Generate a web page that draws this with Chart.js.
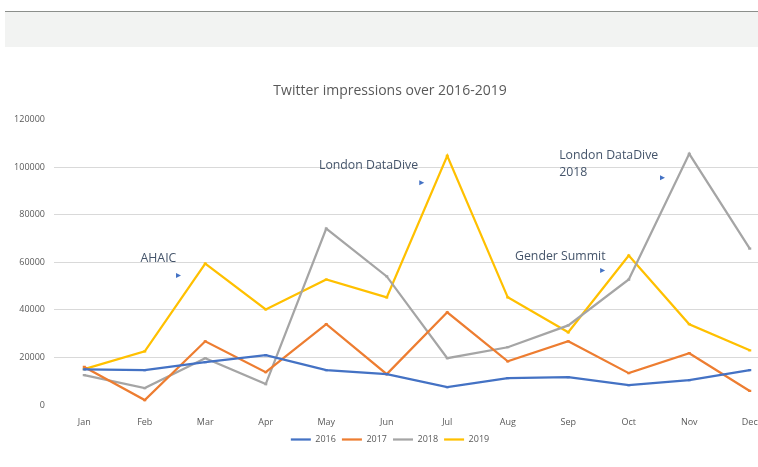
<!DOCTYPE html>
<html>
<head>
<meta charset="utf-8">
<script src="https://cdn.jsdelivr.net/npm/chart.js@4.4.0/dist/chart.umd.min.js"></script>
<style>
  html, body { margin: 0; padding: 0; background: #fff; overflow: hidden; }
  body { width: 758px; height: 467px; position: relative; }
  .topbar { position: absolute; left: 5px; top: 11px; width: 760px; height: 35px; background: #f2f3f2; border-top: 1px solid #8c8f8c; }
  .wrap { position: absolute; left: 0; top: 0; width: 798px; height: 467px; }
</style>
</head>
<body>
<div class="topbar"></div>
<div class="wrap"><canvas id="chart"></canvas></div>
<script>
// Data
const months = ['Jan', 'Feb', 'Mar', 'Apr', 'May', 'Jun', 'Jul', 'Aug', 'Sep', 'Oct', 'Nov', 'Dec'];
const y2016 = [15000, 14700, 18000, 21000, 14700, 13000, 7500, 11300, 11700, 8400, 10500, 14700];
const y2017 = [16000, 2100, 26800, 13800, 34000, 13000, 39000, 18400, 26800, 13400, 21800, 5900];
const y2018 = [12600, 7100, 19700, 8800, 74200, 54100, 19700, 24300, 33500, 52800, 105700, 65800];
const y2019 = [15100, 22600, 59500, 40200, 52800, 45300, 104800, 45300, 30600, 62900, 34000, 23000];
const yTicks = [0, 20000, 40000, 60000, 80000, 100000, 120000];

// Callout labels, anchored in data units (month index, value)
const notes = [
  { lines: ['AHAIC'], x: 0.93, y: 61600, ax: 1.55, ay: 54500 },
  { lines: ['London DataDive'], x: 3.88, y: 100600, ax: 5.57, ay: 93500 },
  { lines: ['London DataDive', '2018'], x: 7.85, y: 104800, ax: 9.55, ay: 95600 },
  { lines: ['Gender Summit'], x: 7.12, y: 62500, ax: 8.56, ay: 56600 }
];

const notesPlugin = {
  id: 'notes',
  afterDatasetsDraw(chart) {
    const { ctx, scales: { x, y } } = chart;
    ctx.save();
    ctx.font = '12.3px "Open Sans", sans-serif';
    ctx.textBaseline = 'middle';
    notes.forEach(n => {
      const px = x.getPixelForValue(n.x);
      const py = y.getPixelForValue(n.y);
      ctx.fillStyle = '#44546a';
      n.lines.forEach((t, i) => ctx.fillText(t, px, py + i * 17));
      const ax = x.getPixelForValue(n.ax);
      const ay = y.getPixelForValue(n.ay);
      ctx.fillStyle = '#4472c4';
      ctx.beginPath();
      ctx.moveTo(ax - 2, ay - 2.5);
      ctx.lineTo(ax + 3, ay);
      ctx.lineTo(ax - 2, ay + 2.5);
      ctx.closePath();
      ctx.fill();
    });
    ctx.restore();
  }
};

const series = [
  { label: '2016', data: y2016, color: '#4472c4' },
  { label: '2017', data: y2017, color: '#ed7d31' },
  { label: '2018', data: y2018, color: '#a5a5a5' },
  { label: '2019', data: y2019, color: '#ffc000' }
];

new Chart(document.getElementById('chart'), {
  type: 'line',
  data: {
    labels: months,
    datasets: series.map(s => ({
      label: s.label,
      data: s.data,
      borderColor: s.color,
      backgroundColor: s.color,
      borderWidth: 2.25,
      pointRadius: 1.5,
      pointStyle: 'line',
      tension: 0
    }))
  },
  options: {
    responsive: true,
    maintainAspectRatio: false,
    animation: false,
    layout: { padding: { top: 83, right: 18, left: 0, bottom: 13 } },
    plugins: {
      title: {
        display: true,
        text: 'Twitter impressions over 2016-2019',
        color: '#595959',
        font: { family: '"Open Sans", sans-serif', size: 14, weight: 'normal' },
        padding: { top: 0, bottom: 20 }
      },
      legend: {
        position: 'bottom',
        labels: {
          usePointStyle: true,
          pointStyle: 'line',
          pointStyleWidth: 20,
          boxHeight: 8,
          padding: 6,
          color: '#595959',
          font: { family: '"Open Sans", sans-serif', size: 9 }
        }
      },
      tooltip: { enabled: false }
    },
    scales: {
      x: {
        offset: true,
        afterFit: s => { s.height = 24; },
        grid: { display: false, drawTicks: false },
        border: { display: false },
        ticks: { color: '#595959', font: { family: '"Open Sans", sans-serif', size: 9 }, padding: 12, maxRotation: 0 }
      },
      y: {
        min: 0,
        max: 120000,
        afterBuildTicks: s => { s.ticks = yTicks.map(v => ({ value: v })); },
        afterFit: s => { s.width = 54; },
        grid: {
          color: c => (c.tick && (c.tick.value === 0 || c.tick.value === 120000)) ? 'rgba(0,0,0,0)' : '#d9d9d9',
          drawTicks: false
        },
        border: { display: false },
        ticks: {
          color: '#595959',
          font: { family: '"Open Sans", sans-serif', size: 9 },
          padding: 9,
          callback: v => String(v)
        }
      }
    }
  },
  plugins: [notesPlugin]
});
</script>
</body>
</html>
